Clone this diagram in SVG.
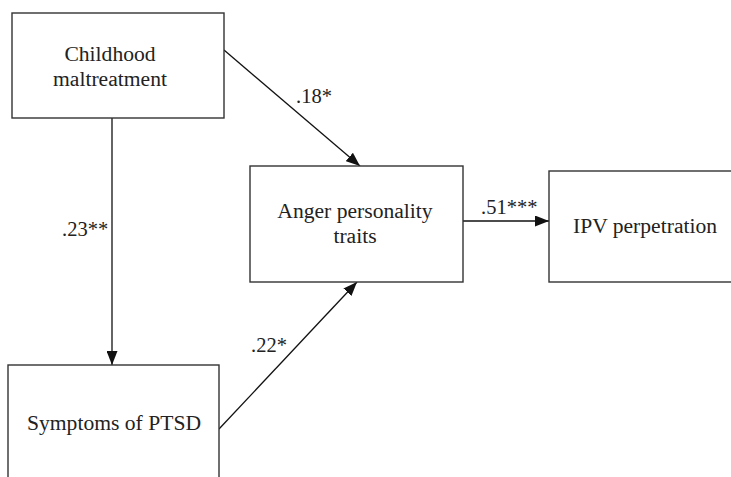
<svg xmlns="http://www.w3.org/2000/svg" width="731" height="477" viewBox="0 0 731 477">
<defs>
<style>
.box{fill:#fff;stroke:#333;stroke-width:1.4}
.t{font-family:'Liberation Serif','DejaVu Serif',serif;font-size:21.6px;fill:#222;text-anchor:middle}
.lbl{font-family:'Liberation Serif','DejaVu Serif',serif;font-size:20.5px;fill:#222}
.c{stroke:#111;stroke-width:1.3;fill:none;marker-end:url(#ah)}
</style>
<marker id="ah" viewBox="0 0 14 11" refX="14" refY="5.5" markerWidth="14" markerHeight="11" markerUnits="userSpaceOnUse" orient="auto">
<path d="M0,0 L14,5.5 L0,11 Z" fill="#111"/>
</marker>
</defs>
<rect width="731" height="477" fill="#fff"/>
<g id="connectors">
<line class="c" x1="112" y1="118" x2="112" y2="365"/>
<line class="c" x1="224" y1="50" x2="360" y2="166"/>
<line class="c" x1="219" y1="429" x2="357" y2="282"/>
<line class="c" x1="463" y1="221" x2="549" y2="221"/>
<text class="lbl" x="62" y="236">.23**</text>
<text class="lbl" x="296" y="103">.18*</text>
<text class="lbl" x="251" y="352">.22*</text>
<text class="lbl" x="481" y="214">.51***</text>
</g>
<g id="childhood">
<rect class="box" x="12" y="13" width="212" height="105"/>
<text class="t" x="110" y="61">Childhood</text>
<text class="t" x="110" y="86">maltreatment</text>
</g>
<g id="anger">
<rect class="box" x="250" y="166" width="213" height="116"/>
<text class="t" x="355" y="218">Anger personality</text>
<text class="t" x="355" y="243">traits</text>
</g>
<g id="ipv">
<rect class="box" x="549" y="171" width="192" height="111"/>
<text class="t" x="645" y="233">IPV perpetration</text>
</g>
<g id="ptsd">
<rect class="box" x="8" y="365" width="211" height="130"/>
<text class="t" x="114" y="430">Symptoms of PTSD</text>
</g>
</svg>
